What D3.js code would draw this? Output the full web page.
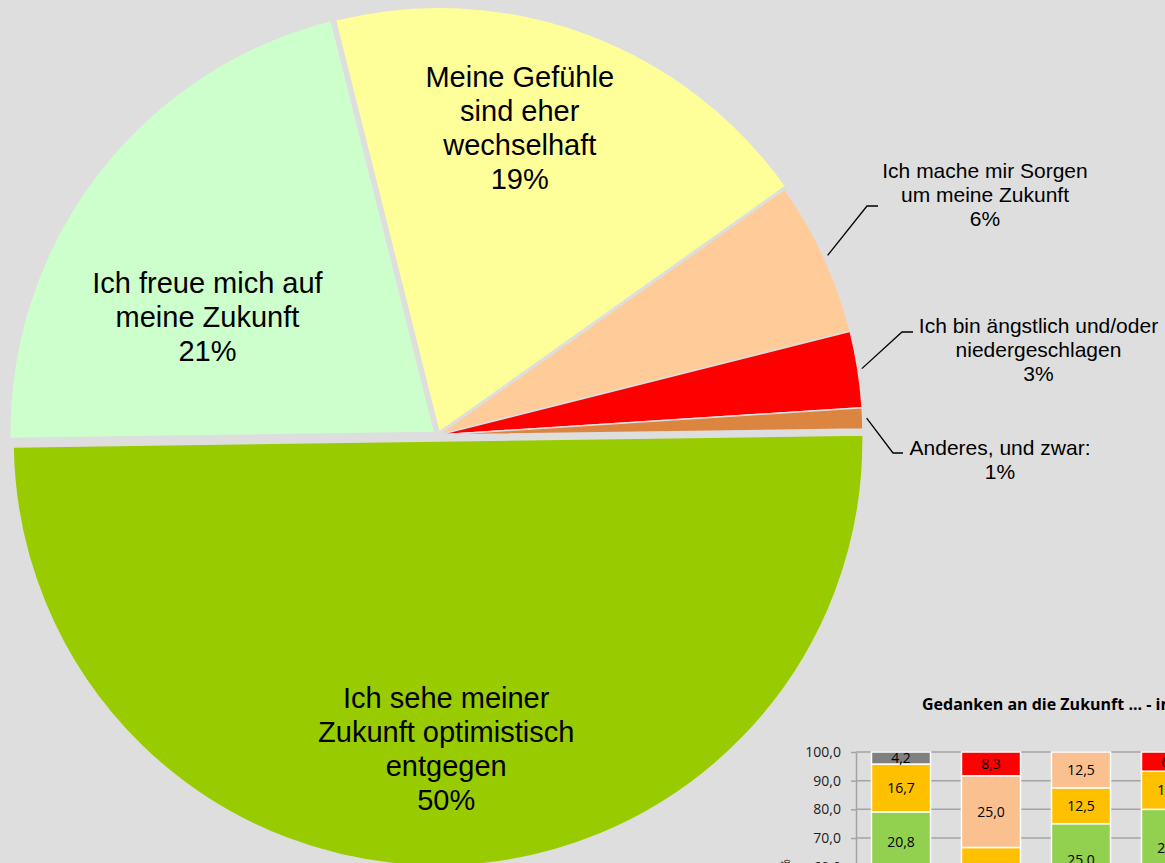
<!DOCTYPE html>
<html lang="de">
<head>
<meta charset="UTF-8">
<script src="https://cdn.jsdelivr.net/npm/d3@7"></script>
<title>Gedanken an die Zukunft</title>
<style>
    body { margin: 0; background: #dedede; }
    svg { display: block; }
    .pie-label { font-family: "Liberation Sans", Arial, sans-serif; fill: #000; }
    .bar-text { font-family: "Open Sans", sans-serif; }
</style>
</head>
<body>
<svg id="chart" width="1165" height="863"></svg>
<script>
    // --- pie data ---
    const answerLines = [
        ["Ich sehe meiner", "Zukunft optimistisch", "entgegen"],
        ["Ich freue mich auf", "meine Zukunft"],
        ["Meine Gefühle", "sind eher", "wechselhaft"],
        ["Ich mache mir Sorgen", "um meine Zukunft"],
        ["Ich bin ängstlich und/oder", "niedergeschlagen"],
        ["Anderes, und zwar:"]
    ];
    const shares = [50.0, 21.3, 19.1, 5.9, 2.9, 0.8];
    const sliceColors = ["#99cc00", "#ccffcc", "#ffff99", "#ffcc99", "#ff0000", "#dc8540"];

    // --- inset bar chart data (stack from bottom to top) ---
    const groups = ["Gruppe 1", "Gruppe 2", "Gruppe 3", "Gruppe 4"];
    const barOptimistisch = [58.3, 33.3, 50.0, 53.3];
    const barFreue = [20.8, 16.7, 25.0, 26.7];
    const barWechselhaft = [16.7, 16.7, 12.5, 13.3];
    const barSorgen = [0, 25.0, 12.5, 0];
    const barAengstlich = [0, 8.3, 0, 6.7];
    const barAnderes = [4.2, 0, 0, 0];
    const barKeys = ["opt", "freue", "wechsel", "sorgen", "angst", "anderes"];
    const barColors = ["#00b050", "#92d050", "#ffc000", "#fac090", "#ff0000", "#808080"];
    const yTicks = [0, 10, 20, 30, 40, 50, 60, 70, 80, 90, 100];

    const W = 1165, H = 863;
    const svg = d3.select("#chart");
    const bg = "#dedede";
    svg.append("rect").attr("width", W).attr("height", H).attr("fill", bg);

    const de = d3.formatLocale({ decimal: ",", thousands: ".", grouping: [3], currency: ["", " €"] });
    const fmt1 = de.format(".1f");

    // ---------------- inset bar chart (drawn first, pie sits above it) ----------------
    const bars = svg.append("g").attr("class", "bar-text");

    const y = d3.scaleLinear().domain([0, 100]).range([1038.7, 752]);
    const x = d3.scaleBand().domain(groups).range([856, 1216])
        .paddingInner(0.344).paddingOuter(0.172);

    bars.append("text")
        .attr("x", 922).attr("y", 710)
        .attr("font-size", 16).attr("font-weight", "bold").attr("fill", "#000")
        .text("Gedanken an die Zukunft ... - in %");

    bars.append("text")
        .attr("transform", "translate(790,859) rotate(-90)")
        .attr("text-anchor", "end")
        .attr("font-size", 13).attr("fill", "#222")
        .text("Anteil in %");

    // gridlines
    bars.append("g").selectAll("line")
        .data(yTicks)
        .join("line")
        .attr("x1", 856).attr("x2", W)
        .attr("y1", d => y(d)).attr("y2", d => y(d))
        .attr("stroke", "#a3a3a3").attr("stroke-width", 1.5);

    const yAxis = bars.append("g")
        .attr("transform", "translate(856,0)")
        .call(d3.axisLeft(y).tickValues(yTicks).tickFormat(fmt1).tickSize(5).tickPadding(10).tickSizeOuter(0));
    yAxis.select(".domain").attr("stroke", "#a3a3a3").attr("stroke-width", 1.5);
    yAxis.selectAll(".tick line").attr("stroke", "#a3a3a3").attr("stroke-width", 1.5);
    yAxis.selectAll(".tick text")
        .attr("font-family", "Open Sans, sans-serif").attr("font-size", 14).attr("fill", "#222");
    // labels that fall completely below the picture are not drawn
    yAxis.selectAll(".tick").filter(d => y(d) > H + 8).select("text").remove();

    const barTable = groups.map((g, i) => ({
        group: g,
        opt: barOptimistisch[i],
        freue: barFreue[i],
        wechsel: barWechselhaft[i],
        sorgen: barSorgen[i],
        angst: barAengstlich[i],
        anderes: barAnderes[i]
    }));
    const stacked = d3.stack().keys(barKeys)(barTable);

    const layer = bars.append("g").selectAll("g")
        .data(stacked)
        .join("g")
        .attr("fill", (d, i) => barColors[i]);

    layer.selectAll("rect")
        .data(d => d.filter(s => s[1] - s[0] > 0))
        .join("rect")
        .attr("x", s => x(s.data.group))
        .attr("width", x.bandwidth())
        .attr("y", s => y(s[1]))
        .attr("height", s => y(s[0]) - y(s[1]))
        .attr("stroke", "#fff").attr("stroke-width", 1.5);

    layer.selectAll("text")
        .data(d => d.filter(s => s[1] - s[0] > 0 && (y(s[0]) + y(s[1])) / 2 < H + 8))
        .join("text")
        .attr("x", s => x(s.data.group) + x.bandwidth() / 2)
        .attr("y", s => (y(s[0]) + y(s[1])) / 2)
        .attr("dy", "0.36em")
        .attr("text-anchor", "middle")
        .attr("font-size", 14)
        .attr("fill", "#000")
        .text(s => fmt1(s[1] - s[0]));

    // ---------------- pie ----------------
    const cx = 438, cy = 435, R = 425;
    const deg = Math.PI / 180;
    const explode = [6, 4, 3, 0, 0, 0];

    const pie = d3.pie().sort(null).value(d => d)
        .startAngle(89.2 * deg).endAngle((89.2 + 360) * deg);
    const arcs = pie(shares);
    const arc = d3.arc().innerRadius(0).outerRadius(R);

    const polar = (a, r) => [cx + r * Math.sin(a), cy - r * Math.cos(a)];
    const mid = d => (d.startAngle + d.endAngle) / 2;

    svg.append("g").selectAll("path")
        .data(arcs)
        .join("path")
        .attr("transform", (d, i) => {
            const [px, py] = polar(mid(d), explode[i]);
            return `translate(${px},${py})`;
        })
        .attr("d", arc)
        .attr("fill", (d, i) => sliceColors[i])
        .attr("stroke", bg).attr("stroke-width", 1.5)
        .attr("stroke-linejoin", "round");

    // labels inside the big slices (angle in degrees, radius from pie centre)
    const insideLabels = [
        { slice: 0, angle: 178.5, r: 314 },
        { slice: 1, angle: 297.1, r: 259 },
        { slice: 2, angle: 14.9, r: 318 }
    ];
    const bigSize = 29, bigLead = 34;
    insideLabels.forEach(l => {
        const lines = answerLines[l.slice].concat([Math.round(shares[l.slice]) + "%"]);
        const [lx, ly] = polar(l.angle * deg, l.r);
        const t = svg.append("text").attr("class", "pie-label")
            .attr("text-anchor", "middle").attr("font-size", bigSize);
        lines.forEach((s, k) => {
            t.append("tspan")
                .attr("x", lx)
                .attr("y", ly + (k - (lines.length - 1) / 2) * bigLead + 0.35 * bigSize)
                .text(s);
        });
    });

    // labels outside the small slices with leader lines
    const outsideLabels = [
        { slice: 3, elbow: [867, 206], end: [878, 206], tx: 985, ty: 178 },
        { slice: 4, elbow: [902, 332], end: [913, 332], tx: 1038.5, ty: 333 },
        { slice: 5, elbow: [893, 453], end: [903, 453], tx: 1000, ty: 455 }
    ];
    const smallSize = 21, smallLead = 24;
    outsideLabels.forEach(l => {
        const start = polar(mid(arcs[l.slice]), R + 4);
        svg.append("path")
            .attr("d", d3.line()([start, l.elbow, l.end]))
            .attr("fill", "none").attr("stroke", "#000").attr("stroke-width", 1.3);
        const lines = answerLines[l.slice].concat([Math.round(shares[l.slice]) + "%"]);
        const t = svg.append("text").attr("class", "pie-label")
            .attr("text-anchor", "middle").attr("font-size", smallSize);
        lines.forEach((s, k) => {
            t.append("tspan").attr("x", l.tx).attr("y", l.ty + k * smallLead).text(s);
        });
    });
</script>
</body>
</html>
